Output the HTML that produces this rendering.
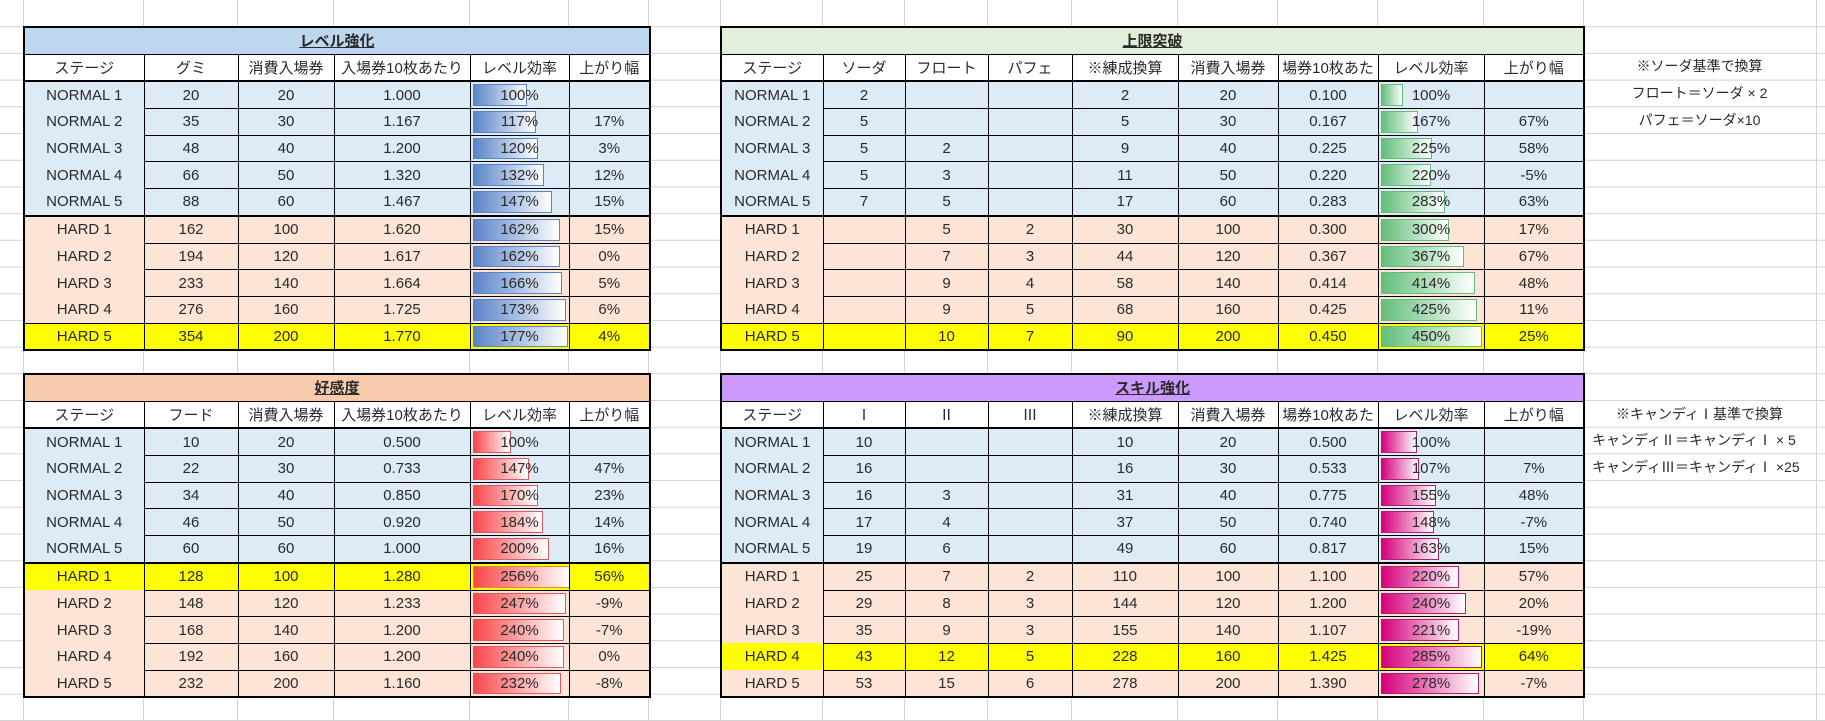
<!DOCTYPE html>
<html><head><meta charset="utf-8">
<style>
body{margin:0;width:1825px;height:721px;background:#fff;position:relative;overflow:hidden;font-family:"Liberation Sans","Noto Sans CJK JP",sans-serif;color:#2a2a2a}
svg.g{position:absolute;left:0;top:0}
table{position:absolute;border-collapse:collapse;table-layout:fixed;border:2px solid #000;font-size:15px}
td{border:1px solid #000;padding:0;text-align:center;height:25.7px;white-space:nowrap;overflow:hidden;position:relative}
tr.t td{font-weight:bold;text-decoration:underline;font-size:15px}
tr.hd td{background:#fff;border-bottom:2px solid #000;font-size:15px}
tr.s td{border-top:2px solid #000}
td.st{border-top-style:hidden}
.n td{background:#ddebf7}.h td{background:#fce4d6}.y td{background:#ffff00}
.bar{position:absolute;left:2px;top:2px;bottom:2px;box-sizing:border-box}
.b1{background:linear-gradient(90deg,#5a84c8,#fff);border:1px solid #5a84c8}
.b2{background:linear-gradient(90deg,#63be7b,#fff);border:1px solid #63be7b}
.b3{background:linear-gradient(90deg,#f8474a,#fff);border:1px solid #e05a64}
.b4{background:linear-gradient(90deg,#d6007b,#fff);border:1px solid #b0206e}
.v{position:relative}
.note{position:absolute;font-size:14px;height:26.7px;line-height:26.7px}
</style></head><body>
<svg class="g" width="1825" height="721">
<g stroke="#d4d4d4" stroke-width="1">
<line x1="23.5" y1="0" x2="23.5" y2="721"/><line x1="143.5" y1="0" x2="143.5" y2="721"/><line x1="237.5" y1="0" x2="237.5" y2="721"/><line x1="333.5" y1="0" x2="333.5" y2="721"/><line x1="469.5" y1="0" x2="469.5" y2="721"/><line x1="568.5" y1="0" x2="568.5" y2="721"/><line x1="648.5" y1="0" x2="648.5" y2="721"/><line x1="720.5" y1="0" x2="720.5" y2="721"/><line x1="822.5" y1="0" x2="822.5" y2="721"/><line x1="904.5" y1="0" x2="904.5" y2="721"/><line x1="987.5" y1="0" x2="987.5" y2="721"/><line x1="1071.5" y1="0" x2="1071.5" y2="721"/><line x1="1177.5" y1="0" x2="1177.5" y2="721"/><line x1="1277.5" y1="0" x2="1277.5" y2="721"/><line x1="1377.5" y1="0" x2="1377.5" y2="721"/><line x1="1483.5" y1="0" x2="1483.5" y2="721"/><line x1="1583.5" y1="0" x2="1583.5" y2="721"/><line x1="1816.5" y1="0" x2="1816.5" y2="721"/>
<line x1="0" y1="26.7" x2="1825" y2="26.7"/><line x1="0" y1="53.4" x2="1825" y2="53.4"/><line x1="0" y1="80.1" x2="1825" y2="80.1"/><line x1="0" y1="106.8" x2="1825" y2="106.8"/><line x1="0" y1="133.5" x2="1825" y2="133.5"/><line x1="0" y1="160.2" x2="1825" y2="160.2"/><line x1="0" y1="186.9" x2="1825" y2="186.9"/><line x1="0" y1="213.6" x2="1825" y2="213.6"/><line x1="0" y1="240.3" x2="1825" y2="240.3"/><line x1="0" y1="267" x2="1825" y2="267"/><line x1="0" y1="293.7" x2="1825" y2="293.7"/><line x1="0" y1="320.4" x2="1825" y2="320.4"/><line x1="0" y1="347.1" x2="1825" y2="347.1"/><line x1="0" y1="373.8" x2="1825" y2="373.8"/><line x1="0" y1="400.5" x2="1825" y2="400.5"/><line x1="0" y1="427.2" x2="1825" y2="427.2"/><line x1="0" y1="453.9" x2="1825" y2="453.9"/><line x1="0" y1="480.6" x2="1825" y2="480.6"/><line x1="0" y1="507.3" x2="1825" y2="507.3"/><line x1="0" y1="534" x2="1825" y2="534"/><line x1="0" y1="560.7" x2="1825" y2="560.7"/><line x1="0" y1="587.4" x2="1825" y2="587.4"/><line x1="0" y1="614.1" x2="1825" y2="614.1"/><line x1="0" y1="640.8" x2="1825" y2="640.8"/><line x1="0" y1="667.5" x2="1825" y2="667.5"/><line x1="0" y1="694.2" x2="1825" y2="694.2"/><line x1="0" y1="720.5" x2="1825" y2="720.5"/>
</g></svg>

<!-- TOP LEFT -->
<table style="left:23px;top:26px;width:626px">
<colgroup><col style="width:120px"><col style="width:94px"><col style="width:96px"><col style="width:136px"><col style="width:99px"><col style="width:81px"></colgroup>
<tr class="t"><td colspan="6" style="background:#bdd7ee">レベル強化</td></tr>
<tr class="hd"><td>ステージ</td><td>グミ</td><td>消費入場券</td><td>入場券10枚あたり</td><td>レベル効率</td><td>上がり幅</td></tr>
<tr class="n"><td>NORMAL 1</td><td>20</td><td>20</td><td>1.000</td><td><div class="bar b1" style="width:54px"></div><span class="v">100%</span></td><td></td></tr>
<tr class="n"><td class="st">NORMAL 2</td><td>35</td><td>30</td><td>1.167</td><td><div class="bar b1" style="width:63px"></div><span class="v">117%</span></td><td>17%</td></tr>
<tr class="n"><td class="st">NORMAL 3</td><td>48</td><td>40</td><td>1.200</td><td><div class="bar b1" style="width:65px"></div><span class="v">120%</span></td><td>3%</td></tr>
<tr class="n"><td class="st">NORMAL 4</td><td>66</td><td>50</td><td>1.320</td><td><div class="bar b1" style="width:71px"></div><span class="v">132%</span></td><td>12%</td></tr>
<tr class="n"><td class="st">NORMAL 5</td><td>88</td><td>60</td><td>1.467</td><td><div class="bar b1" style="width:79px"></div><span class="v">147%</span></td><td>15%</td></tr>
<tr class="h s"><td>HARD 1</td><td>162</td><td>100</td><td>1.620</td><td><div class="bar b1" style="width:87px"></div><span class="v">162%</span></td><td>15%</td></tr>
<tr class="h"><td class="st">HARD 2</td><td>194</td><td>120</td><td>1.617</td><td><div class="bar b1" style="width:87px"></div><span class="v">162%</span></td><td>0%</td></tr>
<tr class="h"><td class="st">HARD 3</td><td>233</td><td>140</td><td>1.664</td><td><div class="bar b1" style="width:89px"></div><span class="v">166%</span></td><td>5%</td></tr>
<tr class="h"><td class="st">HARD 4</td><td>276</td><td>160</td><td>1.725</td><td><div class="bar b1" style="width:93px"></div><span class="v">173%</span></td><td>6%</td></tr>
<tr class="y"><td>HARD 5</td><td>354</td><td>200</td><td>1.770</td><td><div class="bar b1" style="width:95px"></div><span class="v">177%</span></td><td>4%</td></tr>
</table>

<!-- TOP RIGHT -->
<table style="left:720px;top:26px;width:864px">
<colgroup><col style="width:102px"><col style="width:82px"><col style="width:83px"><col style="width:84px"><col style="width:106px"><col style="width:100px"><col style="width:100px"><col style="width:106px"><col style="width:100px"></colgroup>
<tr class="t"><td colspan="9" style="background:#e2efda">上限突破</td></tr>
<tr class="hd"><td>ステージ</td><td>ソーダ</td><td>フロート</td><td>パフェ</td><td>※練成換算</td><td>消費入場券</td><td>場券10枚あた</td><td>レベル効率</td><td>上がり幅</td></tr>
<tr class="n"><td>NORMAL 1</td><td>2</td><td></td><td></td><td>2</td><td>20</td><td>0.100</td><td><div class="bar b2" style="width:22px"></div><span class="v">100%</span></td><td></td></tr>
<tr class="n"><td class="st">NORMAL 2</td><td>5</td><td></td><td></td><td>5</td><td>30</td><td>0.167</td><td><div class="bar b2" style="width:37px"></div><span class="v">167%</span></td><td>67%</td></tr>
<tr class="n"><td class="st">NORMAL 3</td><td>5</td><td>2</td><td></td><td>9</td><td>40</td><td>0.225</td><td><div class="bar b2" style="width:51px"></div><span class="v">225%</span></td><td>58%</td></tr>
<tr class="n"><td class="st">NORMAL 4</td><td>5</td><td>3</td><td></td><td>11</td><td>50</td><td>0.220</td><td><div class="bar b2" style="width:50px"></div><span class="v">220%</span></td><td>-5%</td></tr>
<tr class="n"><td class="st">NORMAL 5</td><td>7</td><td>5</td><td></td><td>17</td><td>60</td><td>0.283</td><td><div class="bar b2" style="width:64px"></div><span class="v">283%</span></td><td>63%</td></tr>
<tr class="h s"><td>HARD 1</td><td></td><td>5</td><td>2</td><td>30</td><td>100</td><td>0.300</td><td><div class="bar b2" style="width:68px"></div><span class="v">300%</span></td><td>17%</td></tr>
<tr class="h"><td class="st">HARD 2</td><td></td><td>7</td><td>3</td><td>44</td><td>120</td><td>0.367</td><td><div class="bar b2" style="width:83px"></div><span class="v">367%</span></td><td>67%</td></tr>
<tr class="h"><td class="st">HARD 3</td><td></td><td>9</td><td>4</td><td>58</td><td>140</td><td>0.414</td><td><div class="bar b2" style="width:94px"></div><span class="v">414%</span></td><td>48%</td></tr>
<tr class="h"><td class="st">HARD 4</td><td></td><td>9</td><td>5</td><td>68</td><td>160</td><td>0.425</td><td><div class="bar b2" style="width:96px"></div><span class="v">425%</span></td><td>11%</td></tr>
<tr class="y"><td>HARD 5</td><td></td><td>10</td><td>7</td><td>90</td><td>200</td><td>0.450</td><td><div class="bar b2" style="width:101px"></div><span class="v">450%</span></td><td>25%</td></tr>
</table>

<!-- BOTTOM LEFT -->
<table style="left:23px;top:373px;width:626px">
<colgroup><col style="width:120px"><col style="width:94px"><col style="width:96px"><col style="width:136px"><col style="width:99px"><col style="width:81px"></colgroup>
<tr class="t"><td colspan="6" style="background:#f8cbad">好感度</td></tr>
<tr class="hd"><td>ステージ</td><td>フード</td><td>消費入場券</td><td>入場券10枚あたり</td><td>レベル効率</td><td>上がり幅</td></tr>
<tr class="n"><td>NORMAL 1</td><td>10</td><td>20</td><td>0.500</td><td><div class="bar b3" style="width:38px"></div><span class="v">100%</span></td><td></td></tr>
<tr class="n"><td class="st">NORMAL 2</td><td>22</td><td>30</td><td>0.733</td><td><div class="bar b3" style="width:56px"></div><span class="v">147%</span></td><td>47%</td></tr>
<tr class="n"><td class="st">NORMAL 3</td><td>34</td><td>40</td><td>0.850</td><td><div class="bar b3" style="width:65px"></div><span class="v">170%</span></td><td>23%</td></tr>
<tr class="n"><td class="st">NORMAL 4</td><td>46</td><td>50</td><td>0.920</td><td><div class="bar b3" style="width:70px"></div><span class="v">184%</span></td><td>14%</td></tr>
<tr class="n"><td class="st">NORMAL 5</td><td>60</td><td>60</td><td>1.000</td><td><div class="bar b3" style="width:76px"></div><span class="v">200%</span></td><td>16%</td></tr>
<tr class="y s"><td>HARD 1</td><td>128</td><td>100</td><td>1.280</td><td><div class="bar b3" style="width:97px;border-color:#e08a30"></div><span class="v">256%</span></td><td>56%</td></tr>
<tr class="h"><td class="st">HARD 2</td><td>148</td><td>120</td><td>1.233</td><td><div class="bar b3" style="width:93px"></div><span class="v">247%</span></td><td>-9%</td></tr>
<tr class="h"><td class="st">HARD 3</td><td>168</td><td>140</td><td>1.200</td><td><div class="bar b3" style="width:91px"></div><span class="v">240%</span></td><td>-7%</td></tr>
<tr class="h"><td class="st">HARD 4</td><td>192</td><td>160</td><td>1.200</td><td><div class="bar b3" style="width:91px"></div><span class="v">240%</span></td><td>0%</td></tr>
<tr class="h"><td class="st">HARD 5</td><td>232</td><td>200</td><td>1.160</td><td><div class="bar b3" style="width:88px"></div><span class="v">232%</span></td><td>-8%</td></tr>
</table>

<!-- BOTTOM RIGHT -->
<table style="left:720px;top:373px;width:864px">
<colgroup><col style="width:102px"><col style="width:82px"><col style="width:83px"><col style="width:84px"><col style="width:106px"><col style="width:100px"><col style="width:100px"><col style="width:106px"><col style="width:100px"></colgroup>
<tr class="t"><td colspan="9" style="background:#cc99ff">スキル強化</td></tr>
<tr class="hd"><td>ステージ</td><td>Ⅰ</td><td>Ⅱ</td><td>Ⅲ</td><td>※練成換算</td><td>消費入場券</td><td>場券10枚あた</td><td>レベル効率</td><td>上がり幅</td></tr>
<tr class="n"><td>NORMAL 1</td><td>10</td><td></td><td></td><td>10</td><td>20</td><td>0.500</td><td><div class="bar b4" style="width:36px"></div><span class="v">100%</span></td><td></td></tr>
<tr class="n"><td class="st">NORMAL 2</td><td>16</td><td></td><td></td><td>16</td><td>30</td><td>0.533</td><td><div class="bar b4" style="width:38px"></div><span class="v">107%</span></td><td>7%</td></tr>
<tr class="n"><td class="st">NORMAL 3</td><td>16</td><td>3</td><td></td><td>31</td><td>40</td><td>0.775</td><td><div class="bar b4" style="width:55px"></div><span class="v">155%</span></td><td>48%</td></tr>
<tr class="n"><td class="st">NORMAL 4</td><td>17</td><td>4</td><td></td><td>37</td><td>50</td><td>0.740</td><td><div class="bar b4" style="width:53px"></div><span class="v">148%</span></td><td>-7%</td></tr>
<tr class="n"><td class="st">NORMAL 5</td><td>19</td><td>6</td><td></td><td>49</td><td>60</td><td>0.817</td><td><div class="bar b4" style="width:58px"></div><span class="v">163%</span></td><td>15%</td></tr>
<tr class="h s"><td>HARD 1</td><td>25</td><td>7</td><td>2</td><td>110</td><td>100</td><td>1.100</td><td><div class="bar b4" style="width:78px"></div><span class="v">220%</span></td><td>57%</td></tr>
<tr class="h"><td class="st">HARD 2</td><td>29</td><td>8</td><td>3</td><td>144</td><td>120</td><td>1.200</td><td><div class="bar b4" style="width:85px"></div><span class="v">240%</span></td><td>20%</td></tr>
<tr class="h"><td class="st">HARD 3</td><td>35</td><td>9</td><td>3</td><td>155</td><td>140</td><td>1.107</td><td><div class="bar b4" style="width:78px"></div><span class="v">221%</span></td><td>-19%</td></tr>
<tr class="y"><td class="st">HARD 4</td><td>43</td><td>12</td><td>5</td><td>228</td><td>160</td><td>1.425</td><td><div class="bar b4" style="width:101px"></div><span class="v">285%</span></td><td>64%</td></tr>
<tr class="h"><td class="st">HARD 5</td><td>53</td><td>15</td><td>6</td><td>278</td><td>200</td><td>1.390</td><td><div class="bar b4" style="width:98px"></div><span class="v">278%</span></td><td>-7%</td></tr>
</table>

<div class="note" style="left:1583px;top:53.4px;width:233px;text-align:center">※ソーダ基準で換算</div>
<div class="note" style="left:1583px;top:80.1px;width:233px;text-align:center">フロート＝ソーダ × 2</div>
<div class="note" style="left:1583px;top:106.8px;width:233px;text-align:center">パフェ＝ソーダ×10</div>
<div class="note" style="left:1583px;top:400.5px;width:233px;text-align:center">※キャンディⅠ基準で換算</div>
<div class="note" style="left:1592px;top:427.2px">キャンディⅡ＝キャンディⅠ × 5</div>
<div class="note" style="left:1592px;top:453.9px">キャンディⅢ＝キャンディⅠ ×25</div>
</body></html>
